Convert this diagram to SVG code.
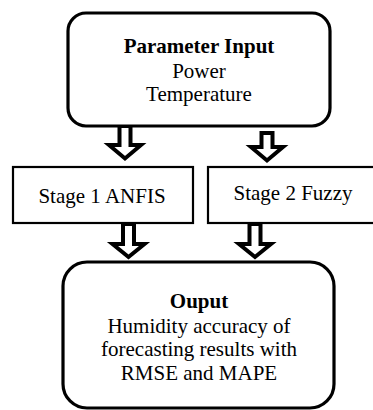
<svg xmlns="http://www.w3.org/2000/svg" width="373" height="410" viewBox="0 0 373 410">
<style>
.t{font-family:"Liberation Serif","Times New Roman",serif;font-size:21px;fill:#000;text-anchor:middle}
.b{font-weight:bold}
.rb{fill:#fff;stroke:#000;stroke-width:3.2}
.sb{fill:#fff;stroke:#000;stroke-width:2.2}
.ar{fill:#fff;stroke:#000;stroke-width:4;stroke-linejoin:miter}
</style>
<rect width="373" height="410" fill="#fff"/>
<g id="connectors">
<path class="ar" d="M119.5,126 V145 H109 L125,158.5 L141,145 H130.5 V126 Z"/>
<path class="ar" d="M261.5,133 V147 H251 L267,160.5 L283,147 H272.5 V133 Z"/>
<path class="ar" d="M123,224 V244 H112.5 L128.5,257 L144.5,244 H134 V224 Z"/>
<path class="ar" d="M249.5,224 V244 H239 L255,257 L271,244 H260.5 V224 Z"/>
</g>
<g id="input">
<rect class="rb" x="68" y="13" width="262" height="113" rx="18"/>
<text class="t b" x="199" y="53">Parameter Input</text>
<text class="t" x="199" y="78">Power</text>
<text class="t" x="199" y="101">Temperature</text>
</g>
<g id="stage1">
<rect class="sb" x="13" y="167" width="180" height="56"/>
<text class="t" x="102" y="203">Stage 1 ANFIS</text>
</g>
<g id="stage2">
<rect class="sb" x="208" y="167" width="170" height="56"/>
<text class="t" x="293" y="200">Stage 2 Fuzzy</text>
</g>
<g id="output">
<rect class="rb" x="63" y="262" width="271" height="146" rx="24"/>
<text class="t b" x="199" y="308">Ouput</text>
<text class="t" x="199" y="333">Humidity accuracy of</text>
<text class="t" x="199" y="356">forecasting results with</text>
<text class="t" x="199" y="380">RMSE and MAPE</text>
</g>
</svg>
